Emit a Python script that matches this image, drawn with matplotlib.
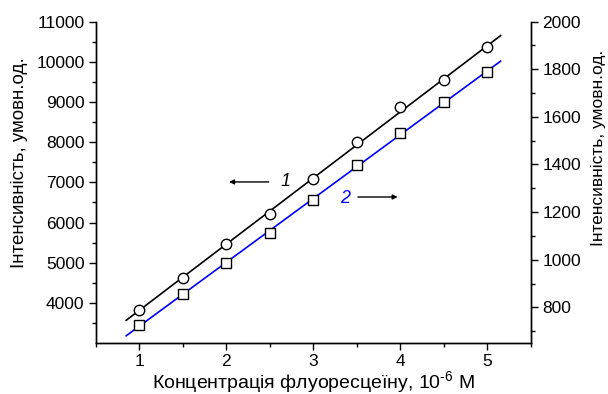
import numpy as np
import matplotlib
matplotlib.use("Agg")
import matplotlib.pyplot as plt
from matplotlib.ticker import MultipleLocator

plt.rcParams['font.family'] = ['Liberation Sans', 'DejaVu Sans']
plt.rcParams['mathtext.fontset'] = 'custom'
plt.rcParams['mathtext.rm'] = 'Liberation Sans'
plt.rcParams['mathtext.it'] = 'Liberation Sans:italic'
plt.rcParams['axes.unicode_minus'] = False

conc = [1.0, 1.5, 2.0, 2.5, 3.0, 3.5, 4.0, 4.5, 5.0]
intensity1 = [3825, 4631, 5462, 6219, 7085, 7992, 8865, 9538, 10361]
intensity2 = [726, 858, 985, 1113, 1249, 1398, 1533, 1663, 1789]
fit_range = [0.85, 5.15]

fig = plt.figure(figsize=(6.08, 3.94), dpi=100)
ax = fig.add_axes([0.1574, 0.1294, 0.8734 - 0.1574, 0.945 - 0.1294])
ax2 = ax.twinx()

xf = np.array(fit_range)
p1 = np.polyfit(conc, intensity1, 1)
p2 = np.polyfit(conc, intensity2, 1)

ax.plot(xf, np.polyval(p1, xf), color='black', lw=1.2, zorder=2)
ax.plot(conc, intensity1, 'o', ms=7.5, mfc='white', mec='black', mew=1.0, zorder=3)
ax2.plot(xf, np.polyval(p2, xf), color='#0000ff', lw=1.2, zorder=2)
ax2.plot(conc, intensity2, 's', ms=6.8, mfc='white', mec='black', mew=1.0, zorder=3)

ax.set_xlim(0.5, 5.5)
ax.set_ylim(3000, 11000)
ax2.set_ylim(650, 2000)

for a in (ax, ax2):
    a.spines['top'].set_visible(False)
    for s in a.spines.values():
        s.set_linewidth(1.0)

ax.xaxis.set_major_locator(MultipleLocator(1))
ax.xaxis.set_minor_locator(MultipleLocator(0.5))
ax.set_yticks([4000, 5000, 6000, 7000, 8000, 9000, 10000, 11000])
ax.set_yticks(np.arange(3500, 11000, 1000), minor=True)
ax2.set_yticks([800, 1000, 1200, 1400, 1600, 1800, 2000])
ax2.set_yticks(np.arange(700, 2000, 200), minor=True)

for a in (ax, ax2):
    a.tick_params(which='major', direction='out', length=5, width=1.0, labelsize=12.5, pad=3)
    a.tick_params(which='minor', direction='out', length=3, width=1.0)

ax.set_xlabel('Концентрація флуоресцеїну, 10$^{\\text{-6}}$ M', fontsize=14, va='baseline')
ax.xaxis.set_label_coords(0.5, -0.141)
ax.set_ylabel('Інтенсивність, умовн.од.', fontsize=13.5, va='center')
ax.yaxis.set_label_coords(-0.176, 0.56)
ax2.set_ylabel('Інтенсивність, умовн.од.', fontsize=12.5, rotation=90, va='center')
ax2.yaxis.set_label_coords(1.154, 0.608)

# annotations
ax.annotate('', xy=(2.0, 7010), xytext=(2.52, 7010),
            arrowprops=dict(arrowstyle='-|>', color='black', lw=1.0, mutation_scale=7))
ax.text(2.68, 7010, '1', fontsize=13, style='italic', ha='center', va='center')
ax.text(3.37, 6600, '2', fontsize=13, style='italic', color='#0000ff', ha='center', va='center')
ax.annotate('', xy=(4.0, 6635), xytext=(3.48, 6635),
            arrowprops=dict(arrowstyle='-|>', color='black', lw=1.0, mutation_scale=7))

fig.savefig('out.png', dpi=100)
